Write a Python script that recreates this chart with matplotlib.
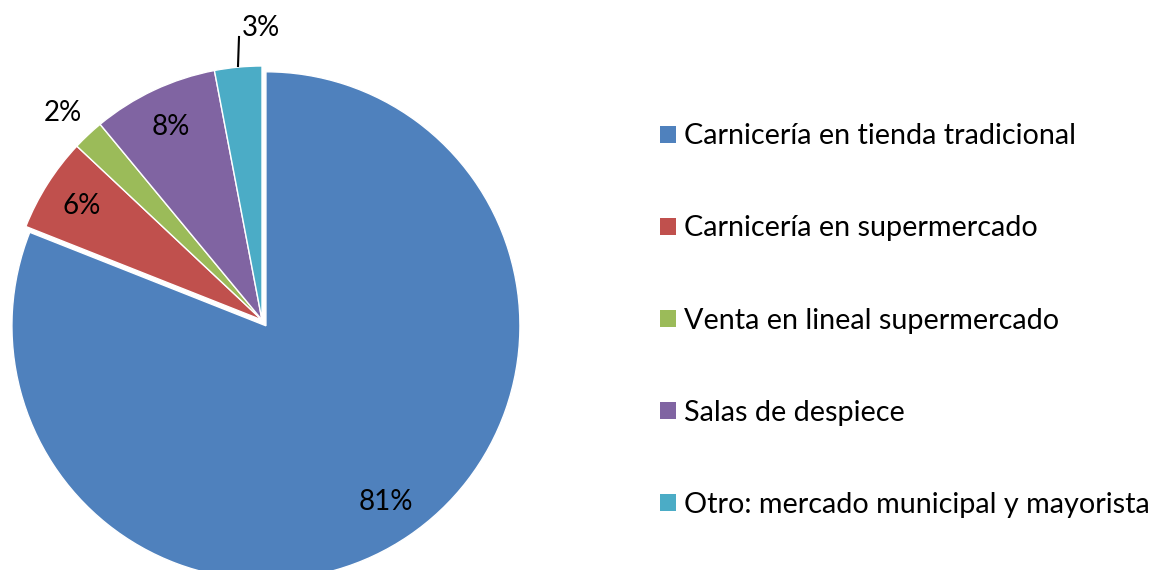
import matplotlib
matplotlib.use('Agg')
import matplotlib.pyplot as plt
from matplotlib.patches import Patch

plt.rcParams['font.family'] = ['Lato', 'DejaVu Sans']

categorias = ['Carnicería en tienda tradicional', 'Carnicería en supermercado',
              'Venta en lineal supermercado', 'Salas de despiece',
              'Otro: mercado municipal y mayorista']
valores = [81, 6, 2, 8, 3]
colores = ['#4F81BD', '#C0504D', '#9BBB59', '#8064A2', '#4BACC6']

fig = plt.figure(figsize=(11.62, 5.70), dpi=100)
ax = fig.add_axes([0, 0, 1, 1])

centro = (262, 250)
radio = 254
# explode va en unidades de datos (píxeles aquí)
wedges, textos, pcts = ax.pie(
    valores, colors=colores, startangle=90, counterclock=False,
    center=centro, radius=radio, explode=[7, 0, 0, 0, 0],
    autopct='%1.0f%%', pctdistance=0.84, frame=True,
    wedgeprops=dict(edgecolor='white', linewidth=1),
    textprops=dict(fontsize=20, color='black'))
ax.set_xlim(0, 1162)
ax.set_ylim(0, 570)
ax.set_aspect('equal')
ax.axis('off')

# etiqueta 2% fuera del sector
pcts[2].set_position((centro[0] - 199, centro[1] + 207))
# etiqueta 3% con línea guía
x0, y0 = 238, centro[1] + radio
ax.plot([x0, x0 + 1], [y0, y0 + 29], color='black', lw=1.5)
pcts[4].set_position((x0 + 4, y0 + 38))
pcts[4].set_ha('left')

handles = [Patch(facecolor=c, edgecolor='none') for c in colores]
ax.legend(handles, categorias, loc='upper left', bbox_to_anchor=(0.5455, 0.829),
          frameon=False, fontsize=20.7, handlelength=0.55, handleheight=0.55,
          handletextpad=0.3, labelspacing=2.3)

fig.savefig('out.png', dpi=100)
